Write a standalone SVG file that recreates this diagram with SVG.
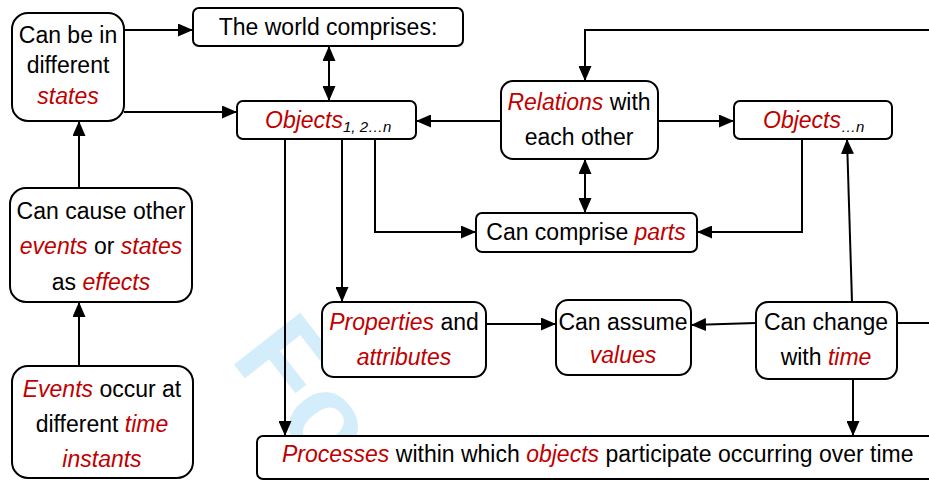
<svg xmlns="http://www.w3.org/2000/svg" width="929" height="480" viewBox="0 0 929 480">
<style>
text{font-family:"Liberation Sans",Arial,sans-serif;font-size:23px;fill:#000;}
.c{text-anchor:middle;}
.r{fill:#c00000;font-style:italic;}
.s{font-size:15px;font-style:italic;fill:#000;}
.b{fill:#fff;stroke:#000;stroke-width:2;}
.ln{fill:none;stroke:#000;stroke-width:2;}
.wm{font-size:122px;font-weight:bold;fill:#d3edfa;}
</style>
<defs>
<marker id="a" markerWidth="15" markerHeight="13" refX="15" refY="6.5" orient="auto-start-reverse" markerUnits="userSpaceOnUse">
<path d="M0,0 L15,6.5 L0,13 z" fill="#000"/>
</marker>
</defs>
<rect width="929" height="480" fill="#fff"/>
<text class="wm" transform="translate(229,358) rotate(52)">Fo</text>

<g id="connectors">
<path class="ln" d="M124,30 H193" marker-end="url(#a)"/>
<path class="ln" d="M124,112 H237" marker-end="url(#a)"/>
<path class="ln" d="M329,46 V101" marker-start="url(#a)" marker-end="url(#a)"/>
<path class="ln" d="M501,121 H416" marker-end="url(#a)"/>
<path class="ln" d="M658,121 H734" marker-end="url(#a)"/>
<path class="ln" d="M929,30 H585 V81" marker-end="url(#a)"/>
<path class="ln" d="M585,159 V213" marker-start="url(#a)" marker-end="url(#a)"/>
<path class="ln" d="M285,139 V436" marker-end="url(#a)"/>
<path class="ln" d="M342,139 V302" marker-end="url(#a)"/>
<path class="ln" d="M375,139 V232 H476" marker-end="url(#a)"/>
<path class="ln" d="M802,139 V232 H697" marker-end="url(#a)"/>
<path class="ln" d="M852,302 L847,139" marker-end="url(#a)"/>
<path class="ln" d="M486,324 H556" marker-end="url(#a)"/>
<path class="ln" d="M756,323 L691,325" marker-end="url(#a)"/>
<path class="ln" d="M897,323 H929"/>
<path class="ln" d="M853,379 V436" marker-end="url(#a)"/>
<path class="ln" d="M79,366 V302" marker-end="url(#a)"/>
<path class="ln" d="M79,188 V121" marker-end="url(#a)"/>
</g>

<g id="states">
<rect class="b" x="12" y="13" width="112" height="108" rx="16"/>
<text class="c" x="68" y="43">Can be in</text>
<text class="c" x="68" y="73">different</text>
<text class="c r" x="68" y="104">states</text>
</g>

<g id="world">
<rect class="b" x="193" y="8" width="270" height="38" rx="6"/>
<text class="c" x="328" y="35">The world comprises:</text>
</g>

<g id="objects1">
<rect class="b" x="237" y="101" width="179" height="38" rx="6"/>
<text x="265" y="128"><tspan class="r">Objects</tspan><tspan class="s" dy="4">1, 2…n</tspan></text>
</g>

<g id="relations">
<rect class="b" x="501" y="81" width="157" height="78" rx="12"/>
<text class="c" x="579" y="110"><tspan class="r">Relations</tspan> with</text>
<text class="c" x="579" y="145">each other</text>
</g>

<g id="objectsn">
<rect class="b" x="734" y="101" width="158" height="38" rx="6"/>
<text x="763" y="128"><tspan class="r">Objects</tspan><tspan class="s" dy="4">…n</tspan></text>
</g>

<g id="parts">
<rect class="b" x="476" y="213" width="221" height="39" rx="6"/>
<text class="c" x="586" y="240">Can comprise <tspan class="r">parts</tspan></text>
</g>

<g id="cause">
<rect class="b" x="10" y="188" width="182" height="114" rx="16"/>
<text class="c" x="101" y="219">Can cause other</text>
<text class="c" x="101" y="254"><tspan class="r">events</tspan> or <tspan class="r">states</tspan></text>
<text class="c" x="101" y="290">as <tspan class="r">effects</tspan></text>
</g>

<g id="events">
<rect class="b" x="12" y="366" width="181" height="112" rx="16"/>
<text class="c" x="102" y="397"><tspan class="r">Events</tspan> occur at</text>
<text class="c" x="102" y="432">different <tspan class="r">time</tspan></text>
<text class="c r" x="102" y="467">instants</text>
</g>

<g id="properties">
<rect class="b" x="322" y="302" width="164" height="75" rx="12"/>
<text class="c" x="404" y="330"><tspan class="r">Properties</tspan> and</text>
<text class="c r" x="404" y="365">attributes</text>
</g>

<g id="values">
<rect class="b" x="556" y="300" width="135" height="75" rx="12"/>
<text class="c" x="623" y="330">Can assume</text>
<text class="c r" x="623" y="363">values</text>
</g>

<g id="change">
<rect class="b" x="756" y="302" width="141" height="77" rx="12"/>
<text class="c" x="826" y="330">Can change</text>
<text class="c" x="826" y="365">with <tspan class="r">time</tspan></text>
</g>

<g id="processes">
<rect class="b" x="257" y="436" width="700" height="43" rx="6"/>
<text x="282" y="462"><tspan class="r">Processes</tspan> within which <tspan class="r">objects</tspan> participate occurring over time</text>
</g>
</svg>
